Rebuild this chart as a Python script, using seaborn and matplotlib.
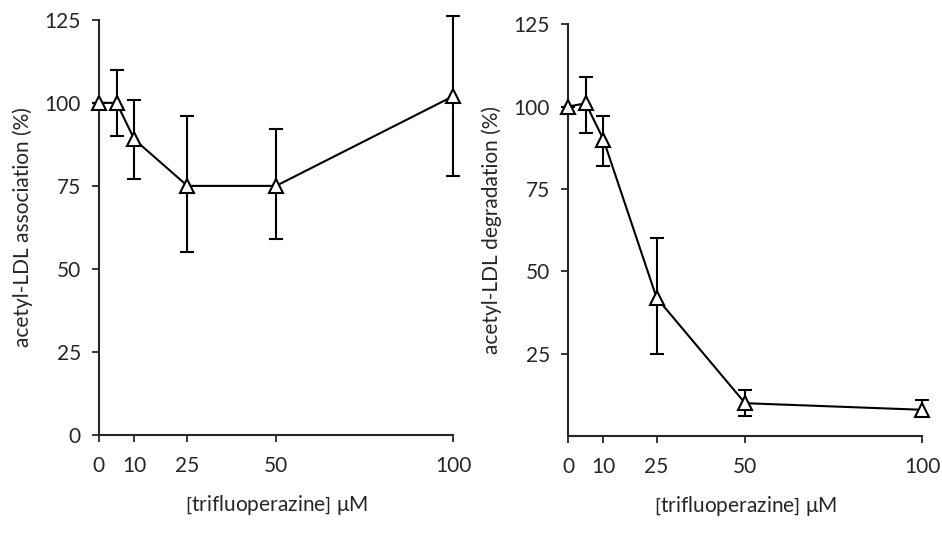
import numpy as np
import pandas as pd
import matplotlib
matplotlib.use("Agg")
import matplotlib.pyplot as plt
import seaborn as sns

# data
conc = [0, 5, 10, 25, 50, 100]
assoc = [100, 100, 89, 75, 75, 102]
assoc_lo = [100, 90, 77, 55, 59, 78]
assoc_hi = [100, 110, 101, 96, 92, 126]
degr = [100, 101, 90, 42, 10, 8]
degr_lo = [100, 92, 82, 25, 6, 6]
degr_hi = [100, 109, 97, 60, 14, 11]
xticks = [0, 10, 25, 50, 100]
yticks_left = [0, 25, 50, 75, 100, 125]
yticks_right = [25, 50, 75, 100, 125]

sns.set_style("ticks")
plt.rcParams['font.family'] = ['Lato', 'DejaVu Sans']
plt.rcParams['mathtext.fontset'] = 'custom'
plt.rcParams['mathtext.rm'] = 'Lato'

fig = plt.figure(figsize=(9.42, 5.5), dpi=100)
axL = fig.add_axes([0.105, 0.209, 0.376, 0.755])
axR = fig.add_axes([0.603, 0.207, 0.376, 0.749])

def panel(ax, y, lo, hi, ylabel, yticks):
    df = pd.DataFrame({"conc": conc, "val": y})
    yerr = np.array([np.array(y) - np.array(lo), np.array(hi) - np.array(y)])
    ax.errorbar(conc, y, yerr=yerr, fmt="none", ecolor="black", elinewidth=1.5,
                capsize=5, capthick=1.5, clip_on=False, zorder=2)
    sns.lineplot(data=df, x="conc", y="val", ax=ax, color="black", linewidth=1.5,
                 marker="^", markersize=10, markerfacecolor="white",
                 markeredgecolor="black", markeredgewidth=1.5, clip_on=False, zorder=3)
    ax.set_xlim(0, 100)
    ax.set_ylim(0, 125)
    ax.set_xticks(xticks)
    ax.set_yticks(yticks)
    ax.tick_params(axis="both", labelsize=15, width=1.3, length=5, direction="out")
    ax.tick_params(axis="x", pad=10)
    ax.tick_params(axis="y", pad=8)
    ax.set_xlabel(r"$\left[\mathrm{trifluoperazine}\right]$ μM", fontsize=15, labelpad=12)
    ax.set_ylabel(ylabel, fontsize=15, labelpad=8)
    for s in ["top", "right"]:
        ax.spines[s].set_visible(False)
    for s in ["left", "bottom"]:
        ax.spines[s].set_linewidth(1.5)

panel(axL, assoc, assoc_lo, assoc_hi, "acetyl-LDL association (%)", yticks_left)
panel(axR, degr, degr_lo, degr_hi, "acetyl-LDL degradation (%)", yticks_right)

fig.savefig("out.png", dpi=100, facecolor="white")
